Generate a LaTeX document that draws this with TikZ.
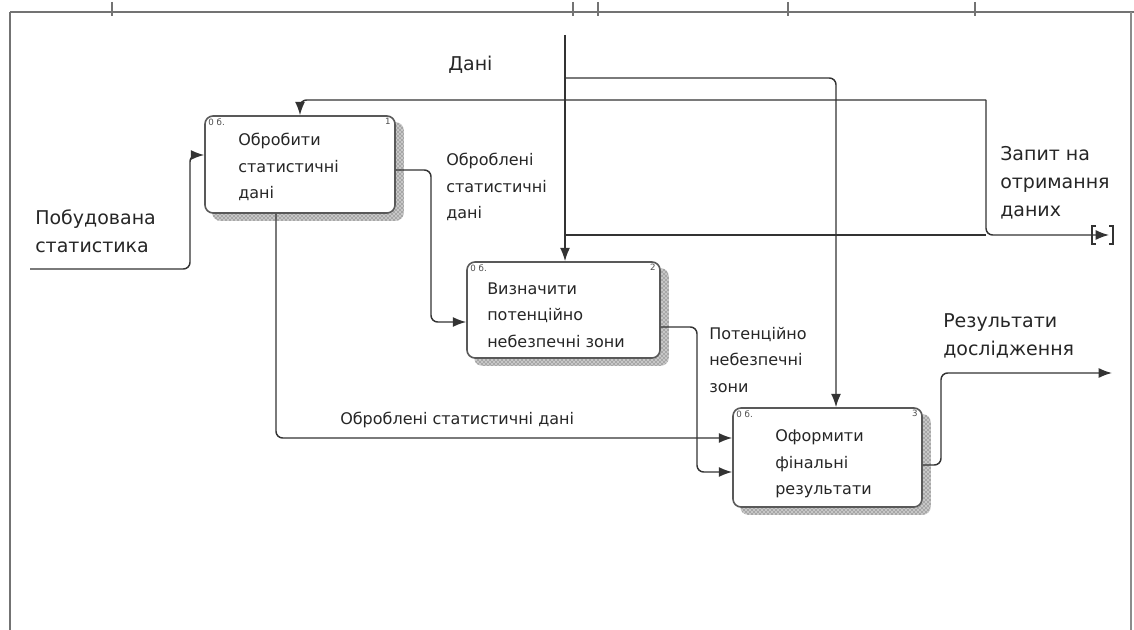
\documentclass[tikz,border=0pt]{standalone}
\usepackage{fontspec}
\setmainfont{DejaVu Sans}
\usetikzlibrary{arrows.meta,patterns,backgrounds,calc}
\tikzset{
  box/.style={draw=black!65, line width=1.2pt, fill=white, rounded corners=6pt, inner sep=0pt},
  shadebox/.style={fill=black!22, postaction={pattern=crosshatch dots, pattern color=black!75}, rounded corners=6pt},
  conn/.style={draw=black!80, line width=1.1pt, rounded corners=5pt},
  arr/.style={conn, -{Latex[length=10pt,width=7.5pt]}},
  txt/.style={font=\fontsize{12}{19.8}\selectfont, align=left, anchor=west, inner sep=0pt, text=black!85},
  bigtxt/.style={font=\fontsize{14.25}{21}\selectfont, align=left, anchor=west, inner sep=0pt, text=black!85},
  tinytxt/.style={font=\fontsize{6.5}{7}\selectfont, inner sep=0pt, text=black!70},
  frame/.style={draw=black!55, line width=1pt},
}
\begin{document}
\begin{tikzpicture}[x=0.75pt, y=-0.75pt]
\useasboundingbox (0,0) rectangle (1134,630);
% frame
\draw[frame, line width=1.6pt] (10,12) -- (10,630);
\draw[frame] (10,12) -- (1134,12);
\draw[frame, draw=black!45] (1131,12) -- (1131,630);
\foreach \tx in {112,573,598,788,975} \draw[frame] (\tx,2) -- (\tx,16);

% boxes
\node[box, minimum width=142.5pt, minimum height=72.75pt] (b1) at (300,164.5) {};
\node[box, minimum width=144.75pt, minimum height=72pt] (b2) at (563.5,310) {};
\node[box, minimum width=141.75pt, minimum height=74.25pt] (b3) at (827.5,457.5) {};
\begin{scope}[on background layer]
  \foreach \b in {b1,b2,b3}
    \path[shadebox] ([shift={(8,7)}]\b.south west) rectangle ([shift={(8,7)}]\b.north east);
\end{scope}

% box texts
\node[txt] (t1) at (238,167) {Обробити\\статистичні\\дані};
\node[txt] (t2) at (487,315) {Визначити\\потенційно\\небезпечні зони};
\node[txt] (t3) at (775,464) {Оформити\\фінальні\\результати};
\node[tinytxt, anchor=north west] (n1a) at ([shift={(4,3)}]b1.north west) {0 б.};
\node[tinytxt, anchor=north east] (n1b) at ([shift={(-5,3)}]b1.north east) {1};
\node[tinytxt, anchor=north west] (n2a) at ([shift={(4,3)}]b2.north west) {0 б.};
\node[tinytxt, anchor=north east] (n2b) at ([shift={(-5,3)}]b2.north east) {2};
\node[tinytxt, anchor=north west] (n3a) at ([shift={(4,3)}]b3.north west) {0 б.};
\node[tinytxt, anchor=north east] (n3b) at ([shift={(-5,3)}]b3.north east) {3};

% labels
\node[bigtxt] (ldani) at (448,65) {Дані};
\node[bigtxt] (lzap) at (1000,183) {Запит на\\отримання\\даних};
\node[bigtxt] (lpob) at (35,231) {Побудована\\статистика};
\node[bigtxt] (lres) at (943,336) {Результати\\дослідження};
\node[txt] (lobr1) at (446,187) {Оброблені\\статистичні\\дані};
\node[txt] (lpot) at (709,360) {Потенційно\\небезпечні\\зони};
\node[txt] (lobr2) at (340,420) {Оброблені статистичні дані};

% coordinates
\coordinate (in1) at (30,269);
\coordinate (p1) at (190,269);
\coordinate (p2) at (190,155);
\coordinate (dtop) at (565,35);
\coordinate (j1) at (565,78);
\coordinate (c3) at (836,78);
\coordinate (qc) at (986,100);
\coordinate (qd) at (986,235);
\coordinate (qout) at (1109,235);
\coordinate (j2) at (565,235);
\coordinate (r1) at (431,170);
\coordinate (r1b) at (431,322);
\coordinate (d1) at (276,438);
\coordinate (r2) at (697,327);
\coordinate (r2b) at (697,472);
\coordinate (r3) at (941,465);
\coordinate (r3b) at (941,373);
\coordinate (out3) at (1112,373);

% connectors
\draw[arr] (in1) -- (p1) -- (p2) -- (p2 -| b1.west);
\draw[arr] (dtop) -- (dtop |- b2.north);
\draw[arr] (j1) -- (c3) -- (c3 |- b3.north);
\draw[arr] (qc) -| (b1.north);
\draw[arr] (qc) -- (qd) -- (qout);
\draw[conn] (j2) -- (qd);
\draw[arr] (b1.east |- r1) -- (r1) -- (r1b) -- (r1b -| b2.west);
\draw[arr] (d1 |- b1.south) -- (d1) -- (d1 -| b3.west);
\draw[arr] (r2 -| b2.east) -- (r2) -- (r2b) -- (r2b -| b3.west);
\draw[arr] (r3 -| b3.east) -- (r3) -- (r3b) -- (out3);

% tunnel mark at the end of the request arrow
\draw[black!80, line width=0.9pt] (1096,226) -- (1092,226) -- (1092,244) -- (1096,244);
\draw[black!80, line width=0.9pt] (1109,226) -- (1113,226) -- (1113,244) -- (1109,244);
\end{tikzpicture}
\end{document}
